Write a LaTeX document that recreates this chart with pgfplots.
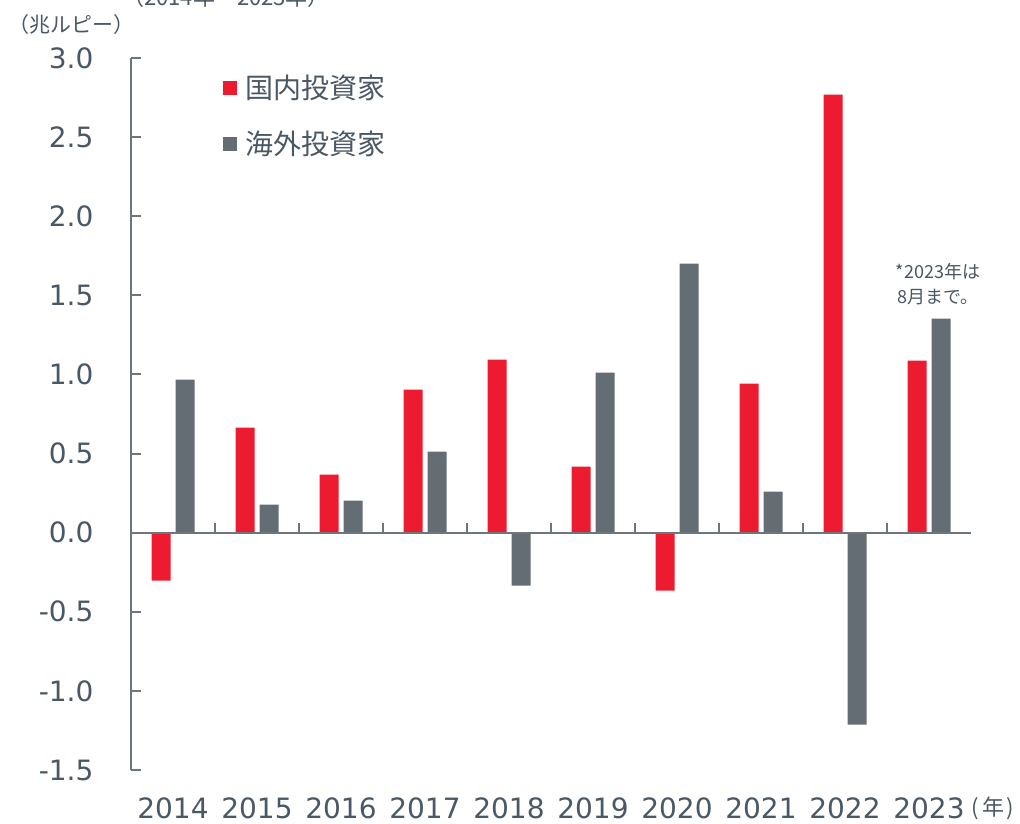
\documentclass[border=0pt]{standalone}
\usepackage{fontspec}
\setmainfont{DejaVu Sans}
\newfontfamily\jp{Noto Sans CJK JP}
\usepackage{pgfplots}
\pgfplotsset{compat=1.18}
\definecolor{cred}{HTML}{ED1B2F}
\definecolor{cgray}{HTML}{656D74}
\definecolor{ctext}{HTML}{4A5764}
\definecolor{caxis}{HTML}{6E767D}
\begin{document}
\begin{tikzpicture}[x=1pt,y=1pt]
\begin{axis}[
  at={(131pt,54pt)}, anchor=south west,
  width=840pt, height=712pt, scale only axis,
  xmin=-0.5, xmax=9.5, ymin=-1.5, ymax=3.0,
  axis y line*=left, axis x line*=bottom,
  x axis line style={draw=none},
  y axis line style={caxis, line width=2pt, -},
  ytick={-1.5,-1.0,-0.5,0,0.5,1.0,1.5,2.0,2.5,3.0},
  yticklabel style={/pgf/number format/fixed, /pgf/number format/fixed zerofill, /pgf/number format/precision=1, /pgf/number format/assume math mode=true, xshift=-34pt},
  ytick style={caxis, line width=2pt},
  tick align=inside, major tick length=10pt,
  xtick={0,...,9},
  xticklabels={2014,2015,2016,2017,2018,2019,2020,2021,2022,2023},
  xtick style={draw=none},
  xticklabel style={yshift=-16pt, inner sep=2pt},
  tick label style={font=\fontsize{28}{34}\selectfont, text=ctext},
  ybar, bar width=19pt,
  legend image code/.code={\fill[#1] (0pt,-7pt) rectangle (14pt,7pt);},
  legend style={at={(axis description cs:0.106,0.979)}, anchor=north west, draw=none, fill=none,
    nodes={inner sep=0pt, text=ctext, font=\jp\fontsize{28}{34}\selectfont}, row sep=31pt, column sep=8pt},
  legend cell align=left,
  clip=false,
]
\addplot[ybar, bar shift=-12pt, fill=cred, draw=none] coordinates {
 (0,-0.303) (1,0.664) (2,0.367) (3,0.904) (4,1.094) (5,0.417) (6,-0.367) (7,0.942) (8,2.769) (9,1.087)};
\addlegendentry{国内投資家}
\addplot[ybar, bar shift=12pt, fill=cgray, draw=none] coordinates {
 (0,0.967) (1,0.177) (2,0.202) (3,0.512) (4,-0.335) (5,1.011) (6,1.700) (7,0.259) (8,-1.214) (9,1.353)};
\addlegendentry{海外投資家}
\draw[caxis, line width=2pt] (axis cs:-0.5,0) -- (axis cs:9.5,0);
\pgfplotsinvokeforeach{0.5,1.5,2.5,3.5,4.5,5.5,6.5,7.5,8.5}{
  \draw[caxis, line width=2pt] (axis cs:#1,0) -- ++(0pt,10pt);
}
\node[font=\jp\fontsize{18}{25}\selectfont, align=center, text=ctext] at (axis cs:9.107,1.568) {*2023年は\\8月まで。};
\end{axis}
\node[font=\jp\fontsize{21}{24}\selectfont, text=ctext] at (72pt,799pt) {（兆ルピー）};
\node[font=\jp\fontsize{22}{26}\selectfont, text=ctext, inner sep=0pt] at (993pt,16pt) {(\hspace{3pt}年\hspace{3pt})};
\node[font=\jp\fontsize{22}{26}\selectfont, text=ctext, anchor=base] at (226pt,818pt) {（2014年～2023年）};
\pgfresetboundingbox
\useasboundingbox (0,0) rectangle (1020,824);
\end{tikzpicture}
\end{document}
